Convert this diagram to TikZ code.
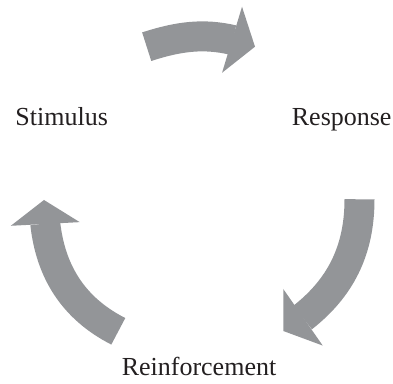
\documentclass[tikz,border=0pt]{standalone}
\usepackage{fontspec}
\setmainfont{Liberation Serif}
\usetikzlibrary{arrows.meta,bending}
\definecolor{arrowgray}{RGB}{147,149,152}
\definecolor{labelink}{RGB}{35,31,32}
\begin{document}
\begin{tikzpicture}[x=1pt,y=1pt,
  stage/.style={anchor=base,inner sep=0pt,text=labelink,
    font=\fontsize{26}{30}\selectfont},
  cyclearrow/.style={draw=arrowgray,line width=30pt,line cap=butt,
    -{Triangle[length=24pt,width=69pt,line width=0pt,color=arrowgray,flex]}}]
  \useasboundingbox (0,0) rectangle (393,383);

  % stage labels
  \node[stage] (stim)  at (61.7,257) {Stimulus};
  \node[stage] (resp)  at (341.7,257) {Response};
  \node[stage] (reinf) at (199,8) {Reinforcement};

  % ends of the three block arrows
  \coordinate (sr-a) at (146.7,336.3);
  \coordinate (sr-b) at (255,336.3);
  \coordinate (rr-a) at (359.5,183.7);
  \coordinate (rr-b) at (283.3,52);
  \coordinate (rs-a) at (118.3,51.7);
  \coordinate (rs-b) at (44,183);

  % Stimulus -> Response -> Reinforcement -> Stimulus
  \draw[cyclearrow] (sr-a) to[out=18,in=160] (sr-b);
  \draw[cyclearrow] (rr-a) to[out=-90,in=32] (rr-b);
  \draw[cyclearrow] (rs-a) to[out=153,in=-90] (rs-b);
\end{tikzpicture}
\end{document}
